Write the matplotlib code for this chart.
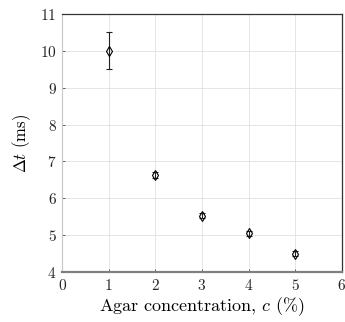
import numpy as np
import matplotlib
matplotlib.use('Agg')
import matplotlib.pyplot as plt

# agar concentration (%) and measured delay (ms)
concentration = [1, 2, 3, 4, 5]
delta_t = [10.0, 6.62, 5.53, 5.05, 4.50]
delta_t_err = [0.5, 0.08, 0.07, 0.07, 0.07]

plt.rcParams['font.family'] = 'cmr10'
plt.rcParams['mathtext.fontset'] = 'cm'
plt.rcParams['axes.formatter.use_mathtext'] = True

fig = plt.figure(figsize=(3.45, 3.22), dpi=100)
ax = fig.add_axes([0.18, 0.155, 0.811, 0.802])

ax.errorbar(concentration, delta_t, yerr=delta_t_err, fmt='d', mfc='none', mec='black',
            ecolor='#222222', color='black', ms=5.5, mew=0.8, elinewidth=0.8, capsize=2.2, capthick=0.8)

ax.set_xlim(0, 6)
ax.set_ylim(4, 11)
ax.set_xticks(np.arange(0, 7, 1))
ax.set_yticks(np.arange(4, 12, 1))
ax.grid(True, color='#e0e0e0', linewidth=0.6)
ax.set_axisbelow(True)
ax.spines['left'].set_color('#c8c8c8')
ax.spines['left'].set_linewidth(0.8)
ax.spines['bottom'].set_color('#808080')
ax.spines['bottom'].set_linewidth(1.6)
ax.spines['top'].set_color('#333333')
ax.spines['top'].set_linewidth(0.9)
ax.spines['right'].set_color('#333333')
ax.spines['right'].set_linewidth(0.9)
ax.tick_params(direction='in', length=2, width=0.5, colors='#262626', labelsize=11,
               top=False, right=False, pad=4)
ax.set_xlabel(r'Agar concentration, $c$ (%)', fontsize=13, labelpad=2)
ax.set_ylabel(r'$\Delta t$ (ms)', fontsize=12, labelpad=5)

fig.savefig('out.png', dpi=100)
